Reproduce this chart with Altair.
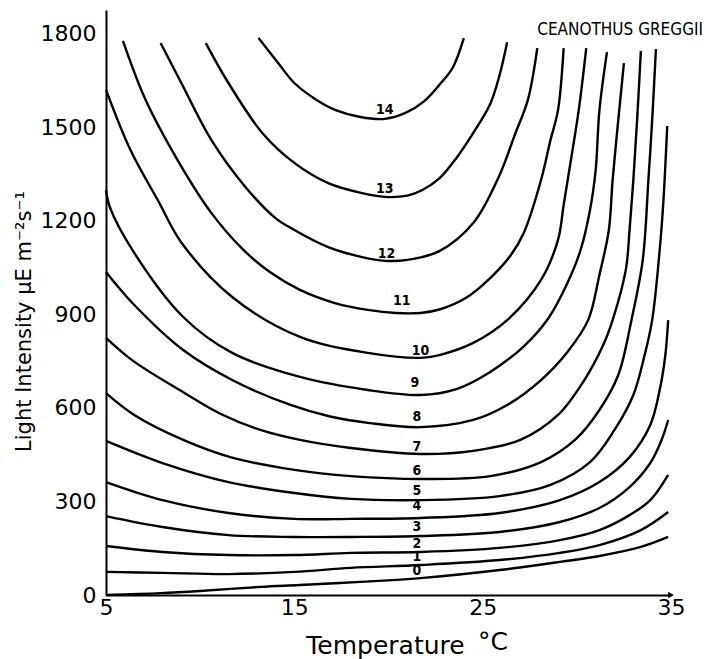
import altair as alt
import pandas as pd

# Isolines of net photosynthesis, level 0 (bottom) to 14 (top)
levels = list(range(15))

# Temperature (°C) and light intensity (µE m-2 s-1) along each isoline
temp_0 = [5.0, 7.9, 10.0, 13.2, 15.3, 18.5, 21.7, 25.9, 29.1, 31.2, 33.4, 34.85]
light_0 = [0, 6, 13, 26, 32, 42, 54, 80, 106, 125, 154, 186]

temp_1 = [5.0, 8.0, 11.5, 15.0, 18.0, 21.7, 25.9, 29.1, 31.2, 33.4, 34.85]
light_1 = [74, 71, 67, 74, 87, 96, 112, 135, 160, 208, 266]

temp_2 = [5.0, 8.0, 11.5, 15.0, 18.0, 21.7, 25.9, 29.1, 31.2, 32.8, 33.9, 34.85]
light_2 = [157, 138, 128, 128, 135, 138, 151, 176, 208, 256, 304, 385]

temp_3 = [5.0, 8.0, 11.5, 15.0, 18.0, 21.7, 25.9, 29.1, 31.2, 32.8, 33.9, 34.5, 34.85]
light_3 = [253, 218, 192, 186, 186, 189, 202, 234, 279, 346, 423, 497, 561]

temp_4 = [5.0, 8.0, 11.5, 15.0, 18.0, 21.7, 25.9, 29.1, 31.2, 32.8, 33.9, 34.4, 34.7, 34.85]
light_4 = [362, 304, 263, 244, 244, 247, 263, 304, 362, 442, 545, 657, 769, 881]

temp_5 = [5.0, 8.0, 11.5, 15.0, 18.0, 21.7, 25.9, 28.6, 30.7, 32.0, 33.0, 33.6, 34.0, 34.4, 34.6, 34.8]
light_5 = [494, 423, 362, 327, 308, 304, 317, 353, 426, 529, 641, 769, 881, 1106, 1266, 1503]

temp_6 = [5.0, 6.5, 9.1, 11.6, 15.0, 18.0, 21.7, 25.4, 28.1, 29.9, 31.2, 32.2, 32.9, 33.5, 33.8, 34.0, 34.2]
light_6 = [647, 577, 497, 442, 401, 381, 372, 381, 426, 497, 593, 705, 881, 1074, 1330, 1522, 1750]

temp_7 = [5.0, 6.4, 9.1, 11.1, 13.2, 15.3, 18.0, 21.7, 24.5, 27.0, 29.0, 30.4, 31.4, 31.9, 32.6, 32.8, 33.0, 33.2, 33.4]
light_7 = [824, 752, 650, 580, 529, 497, 471, 452, 462, 497, 577, 689, 801, 881, 1042, 1170, 1330, 1522, 1744]

temp_8 = [5.0, 6.4, 9.1, 11.7, 14.8, 16.9, 19.0, 21.7, 24.5, 26.3, 28.1, 29.5, 30.6, 31.2, 31.7, 31.9, 32.2, 32.5]
light_8 = [1035, 936, 785, 689, 609, 572, 551, 538, 561, 609, 689, 779, 881, 1026, 1170, 1330, 1522, 1705]

temp_9 = [5.0, 5.2, 6.4, 9.1, 11.7, 15.3, 18.9, 21.7, 23.6, 25.4, 27.2, 28.5, 29.5, 30.2, 30.7, 31.0, 31.2, 31.6]
light_9 = [1298, 1244, 1106, 891, 776, 699, 657, 641, 660, 715, 798, 888, 1000, 1106, 1234, 1362, 1554, 1740]

temp_10 = [5.0, 6.3, 7.8, 9.0, 11.7, 15.3, 18.9, 21.7, 22.7, 24.5, 26.3, 28.1, 29.0, 29.3, 29.6, 30.1, 30.5]
light_10 = [1619, 1426, 1260, 1130, 955, 827, 776, 760, 769, 808, 881, 1010, 1138, 1250, 1362, 1554, 1753]

temp_11 = [5.9, 7.1, 8.8, 10.6, 12.3, 13.7, 15.3, 17.2, 18.9, 20.4, 21.7, 22.7, 24.1, 25.4, 26.5, 27.2, 28.1, 28.6, 29.0, 29.3]
light_11 = [1776, 1587, 1394, 1224, 1106, 1035, 978, 935, 914, 904, 904, 915, 952, 1016, 1090, 1163, 1330, 1458, 1554, 1753]

temp_12 = [7.9, 9.0, 10.6, 12.4, 14.0, 15.0, 16.8, 18.6, 19.8, 21.0, 22.7, 24.5, 25.9, 26.7, 27.4, 27.9]
light_12 = [1769, 1641, 1458, 1308, 1208, 1170, 1115, 1083, 1071, 1074, 1102, 1192, 1346, 1474, 1587, 1753]

temp_13 = [10.3, 11.5, 13.3, 15.0, 16.8, 18.6, 19.8, 21.0, 21.8, 22.7, 23.6, 24.5, 25.4, 25.9, 26.3]
light_13 = [1769, 1641, 1481, 1385, 1320, 1288, 1276, 1280, 1298, 1335, 1400, 1481, 1574, 1667, 1772]

temp_14 = [13.1, 14.1, 15.0, 16.1, 17.2, 18.5, 19.8, 20.9, 21.9, 22.7, 23.4, 24.0]
light_14 = [1785, 1708, 1641, 1590, 1554, 1532, 1526, 1545, 1583, 1635, 1689, 1785]

temps = [temp_0, temp_1, temp_2, temp_3, temp_4, temp_5, temp_6, temp_7,
         temp_8, temp_9, temp_10, temp_11, temp_12, temp_13, temp_14]
lights = [light_0, light_1, light_2, light_3, light_4, light_5, light_6, light_7,
          light_8, light_9, light_10, light_11, light_12, light_13, light_14]

# Where each isoline carries its level number
label_temp = [21.5, 21.5, 21.5, 21.5, 21.5, 21.5, 21.5, 21.5, 21.5, 21.4, 21.7, 20.7, 19.9, 19.8, 19.8]
label_light = [77, 121, 165, 217, 286, 334, 396, 473, 569, 678, 781, 941, 1092, 1300, 1556]

x_ticks = [5, 15, 25, 35]
y_ticks = [0, 300, 600, 900, 1200, 1500, 1800]

rows = []
for lvl, ts, ls in zip(levels, temps, lights):
    for k, (t, l) in enumerate(zip(ts, ls)):
        rows.append({"level": lvl, "idx": k, "temp": t, "light": l})
curves = pd.DataFrame(rows)

labels = pd.DataFrame({"temp": label_temp, "light": label_light,
                       "text": [str(v) for v in levels]})

font = "DejaVu Sans"
narrow = "DejaVu Sans Condensed, Liberation Sans Narrow, Liberation Sans, sans-serif"

x_scale = alt.Scale(domain=[5, 35], nice=False, zero=False)
y_scale = alt.Scale(domain=[0, 1875], nice=False, zero=False)

x_axis = alt.Axis(
    values=x_ticks, format="d", ticks=False, grid=False,
    domainColor="black", domainWidth=2,
    labelFont=font, labelFontSize=22, labelColor="black", labelPadding=2,
    labelFlush=False, labelOverlap=False,
    title="Temperature", titleFont=font, titleFontSize=25, titleFontWeight="normal",
    titleColor="black", titleX=279, titleY=50, titleAlign="center", titleBaseline="middle",
)
y_axis = alt.Axis(
    values=y_ticks, format="d", ticks=False, grid=False,
    domainColor="black", domainWidth=2,
    labelFont=font, labelFontSize=22, labelColor="black", labelPadding=10,
    labelFlush=False, labelOverlap=False,
    title="Light Intensity \u03bcE m\u207b\u00b2s\u207b\u00b9", titleFont=font, titleFontSize=21,
    titleFontWeight="normal", titleColor="black", titleAngle=270,
    titleX=-82, titleY=311, titleAlign="center", titleBaseline="middle",
)

x_enc = alt.X("temp:Q", scale=x_scale, axis=x_axis)
y_enc = alt.Y("light:Q", scale=y_scale, axis=y_axis)

lines = alt.Chart(curves).mark_line(
    color="black", strokeWidth=2.4, interpolate="catmull-rom"
).encode(
    x=x_enc,
    y=y_enc,
    detail="level:N",
    order="idx:Q",
)

level_text = alt.Chart(labels).mark_text(
    font=narrow, fontSize=14, fontWeight="bold", color="black",
    align="center", baseline="middle",
).encode(x=x_enc, y=y_enc, text="text:N")

arrow = alt.Chart(pd.DataFrame({"temp": [35], "light": [0]})).mark_point(
    shape="triangle-right", filled=True, color="black", opacity=1, size=45
).encode(x=x_enc, y=y_enc)

species = alt.Chart(pd.DataFrame({"t": ["CEANOTHUS GREGGII"]})).mark_text(
    font=narrow, fontSize=17, color="black", align="right", baseline="middle"
).encode(text="t:N", x=alt.value(597), y=alt.value(20))

degc = alt.Chart(pd.DataFrame({"t": ["\u00b0C"]})).mark_text(
    font=font, fontSize=25, color="black", align="center", baseline="middle"
).encode(text="t:N", x=alt.value(387), y=alt.value(632))

chart = alt.layer(lines, level_text, arrow, species, degc).properties(
    width=565, height=585,
    autosize=alt.AutoSizeParams(type="none"),
    padding={"left": 106, "top": 10, "right": 34, "bottom": 64},
    background="white",
).configure_view(stroke=None)

chart.save("out.html", embed_options={"renderer": "svg", "actions": False})
